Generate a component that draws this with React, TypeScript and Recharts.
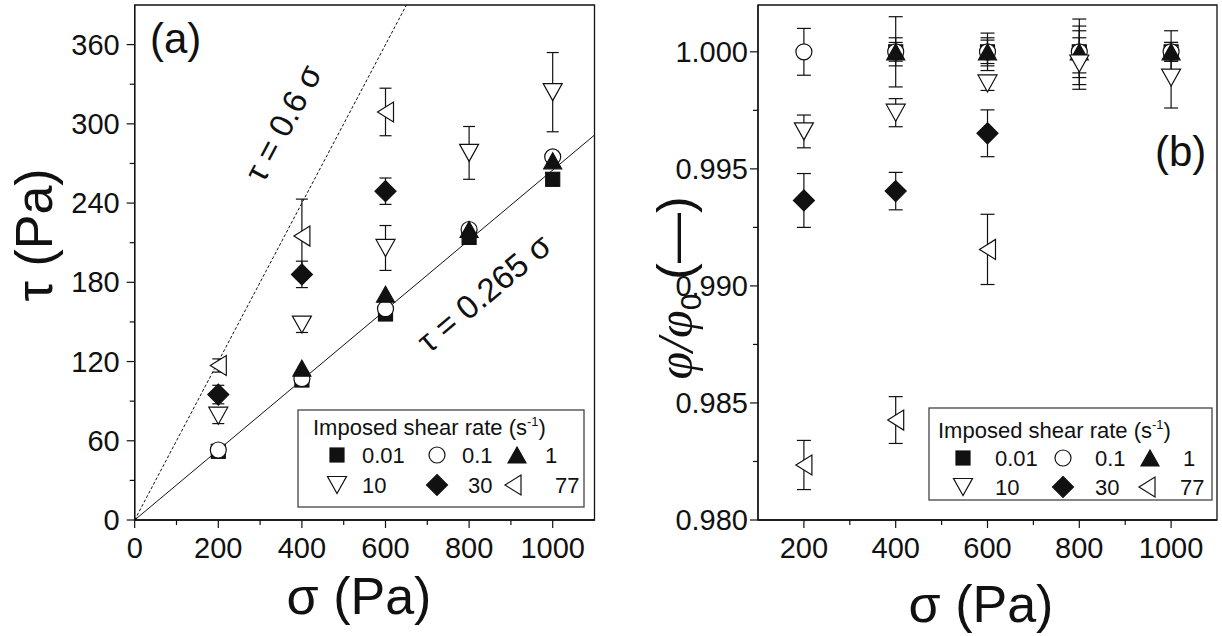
import React from 'react'
import { ScatterChart, Scatter, XAxis, YAxis, ErrorBar, ReferenceLine, ReferenceArea } from 'recharts'

const sigma = [200, 400, 600, 800, 1000]
const rates = ['0.01', '0.1', '1', '10', '30', '77']
const kinds = ['square', 'circle', 'up', 'down', 'diamond', 'left']

// (a) shear stress tau (Pa) vs normal stress sigma
const tau001 = [52, 106, 156, 214, 258]
const tau01 = [53, 107, 160, 220, 275]
const tau1 = [null, 115, 171, 220, 272]
const tau10 = [79, 148, 206, 278, 324]
const tau10Err = [6, 6, 17, 20, 30]
const tau30 = [95, 186, 249, null, null]
const tau30Err = [7, 10, 10, 0, 0]
const tau77 = [117, 215, 309, null, null]
const tau77Err = [5, 28, 18, 0, 0]

// (b) relative packing fraction phi/phi0
const phi001 = [null, 1, 1, 1, 1]
const phi001Err = [0, 0.0006, 0.0006, 0.0014, 0.0004]
const phi01 = [1, 1, 1, 1, 1]
const phi01Err = [0.001, 0.0015, 0.0008, 0.0009, 0.0009]
const phi1 = [null, 1, 1, 1, 1]
const phi1Err = [0, 0.0004, 0.0005, 0.0011, 0.0004]
const phi10 = [0.9966, 0.9974, 0.99865, 0.9995, 0.9989]
const phi10Err = [0.0007, 0.0006, 0.0003, 0.0011, 0.0013]
const phi30 = [0.99365, 0.99405, 0.99652, null, null]
const phi30Err = [0.00115, 0.0008, 0.001, 0, 0]
const phi77 = [0.98235, 0.98427, 0.99156, null, null]
const phi77Err = [0.00105, 0.001, 0.0015, 0, 0]

// fitted lines tau = k * sigma
const slopeSolid = 0.265
const slopeDashed = 0.6

const leftXTicks = [0, 100, 200, 300, 400, 500, 600, 700, 800, 900, 1000]
const leftYTicks = [0, 30, 60, 90, 120, 150, 180, 210, 240, 270, 300, 330, 360]
const rightXTicks = [200, 300, 400, 500, 600, 700, 800, 900, 1000]
const rightYTicks = [0.98, 0.9825, 0.985, 0.9875, 0.99, 0.9925, 0.995, 0.9975, 1.0]

const ink = '#111'
const font = '"Liberation Sans", Arial, sans-serif'

const build = (ys: (number | null)[], errs?: number[]) =>
  sigma
    .map((x, i) => ({ x, y: ys[i], err: errs ? errs[i] : 0 }))
    .filter((d) => d.y != null)

const tauSeries = [
  build(tau001),
  build(tau01),
  build(tau1),
  build(tau10, tau10Err),
  build(tau30, tau30Err),
  build(tau77, tau77Err),
]
const tauHasErr = [false, false, false, true, true, true]

const phiSeries = [
  build(phi001, phi001Err),
  build(phi01, phi01Err),
  build(phi1, phi1Err),
  build(phi10, phi10Err),
  build(phi30, phi30Err),
  build(phi77, phi77Err),
]

function Marker({ kind, cx, cy }: { kind: string; cx: number; cy: number }) {
  const st = { stroke: ink, strokeWidth: 1.2 }
  if (kind === 'square') return <rect x={cx - 7} y={cy - 7} width={14} height={14} fill={ink} {...st} />
  if (kind === 'circle') return <circle cx={cx} cy={cy} r={8} fill="#fff" {...st} />
  if (kind === 'up')
    return <polygon points={`${cx},${cy - 8} ${cx - 9},${cy + 8} ${cx + 9},${cy + 8}`} fill={ink} {...st} />
  if (kind === 'down')
    return <polygon points={`${cx},${cy + 8.5} ${cx - 9.5},${cy - 8.5} ${cx + 9.5},${cy - 8.5}`} fill="#fff" {...st} />
  if (kind === 'diamond')
    return (
      <polygon points={`${cx},${cy - 10.5} ${cx + 10.5},${cy} ${cx},${cy + 10.5} ${cx - 10.5},${cy}`} fill={ink} {...st} />
    )
  return <polygon points={`${cx - 8},${cy} ${cx + 8},${cy - 10} ${cx + 8},${cy + 10}`} fill="#fff" {...st} />
}

const shapeFor = (kind: string) => (p: any) => <Marker kind={kind} cx={p.cx} cy={p.cy} />

const LeftXTick = ({ x, y, payload }: any) => {
  const v = payload.value
  const major = v % 200 === 0
  return (
    <g>
      <line x1={x} y1={y} x2={x} y2={y + (major ? 8 : 5)} stroke={ink} strokeWidth={1.2} />
      {major && (
        <text x={x} y={y + 38} textAnchor="middle" fontSize={29} fontFamily={font} fill={ink}>
          {v}
        </text>
      )}
    </g>
  )
}

const LeftYTick = ({ x, y, payload }: any) => {
  const v = payload.value
  const major = v % 60 === 0
  return (
    <g>
      <line x1={x} y1={y} x2={x - (major ? 8 : 5)} y2={y} stroke={ink} strokeWidth={1.2} />
      {major && (
        <text x={x - 15} y={y + 10} textAnchor="end" fontSize={29} fontFamily={font} fill={ink}>
          {v}
        </text>
      )}
    </g>
  )
}

const RightXTick = ({ x, y, payload }: any) => {
  const v = payload.value
  const major = v % 200 === 0
  return (
    <g>
      <line x1={x} y1={y} x2={x} y2={y + (major ? 8 : 5)} stroke={ink} strokeWidth={1.2} />
      {major && (
        <text x={x} y={y + 38} textAnchor="middle" fontSize={29} fontFamily={font} fill={ink}>
          {v}
        </text>
      )}
    </g>
  )
}

const RightYTick = ({ x, y, payload }: any) => {
  const v = payload.value
  const major = Math.round(v * 10000) % 50 === 0
  return (
    <g>
      <line x1={x} y1={y} x2={x - (major ? 8 : 5)} y2={y} stroke={ink} strokeWidth={1.2} />
      {major && (
        <text x={x - 10} y={y + 10} textAnchor="end" fontSize={29} fontFamily={font} fill={ink}>
          {v.toFixed(3)}
        </text>
      )}
    </g>
  )
}

type LegendProps = {
  x: number
  y: number
  w: number
  h: number
  title: [number, number]
  rows: [number, number]
  marks: number[][]
  labels: number[][]
}

function LegendBox({ x, y, w, h, title, rows, marks, labels }: LegendProps) {
  return (
    <g fontFamily={font} fill={ink}>
      <rect x={x} y={y} width={w} height={h} fill="#fff" stroke="#444" strokeWidth={1.3} />
      <text x={title[0]} y={title[1]} fontSize={22}>
        Imposed shear rate (s
        <tspan fontSize={13} dy={-9}>
          -1
        </tspan>
        <tspan dy={9}>)</tspan>
      </text>
      {rates.map((r, i) => {
        const row = i < 3 ? 0 : 1
        const col = i % 3
        return (
          <g key={r}>
            <Marker kind={kinds[i]} cx={marks[row][col]} cy={rows[row]} />
            <text x={labels[row][col]} y={rows[row] + 8} fontSize={22}>
              {r}
            </text>
          </g>
        )
      })}
    </g>
  )
}

export default function App() {
  return (
    <div style={{ position: 'absolute', left: 0, top: 0, width: 1222, height: 636, background: '#fff' }}>
      <div style={{ position: 'absolute', left: 0, top: 0 }}>
        <ScatterChart width={600} height={636} margin={{ top: 5, right: 5.5, bottom: 76, left: 74.7 }}>
          <XAxis
            type="number"
            dataKey="x"
            domain={[0, 1100]}
            ticks={leftXTicks}
            interval={0}
            allowDataOverflow
            height={40}
            tickSize={0}
            tickMargin={0}
            tick={<LeftXTick />}
            axisLine={{ stroke: ink, strokeWidth: 1.3 }}
          />
          <YAxis
            type="number"
            dataKey="y"
            domain={[0, 390]}
            ticks={leftYTicks}
            interval={0}
            allowDataOverflow
            width={60}
            tickSize={0}
            tickMargin={0}
            tick={<LeftYTick />}
            axisLine={{ stroke: ink, strokeWidth: 1.3 }}
          />
          <ReferenceArea x1={0} x2={1100} y1={0} y2={390} fill="none" stroke={ink} strokeWidth={1.3} />
          <ReferenceLine
            segment={[
              { x: 0, y: 0 },
              { x: 390 / slopeDashed, y: 390 },
            ]}
            stroke={ink}
            strokeWidth={1}
            strokeDasharray="3 2"
          />
          <ReferenceLine
            segment={[
              { x: 0, y: 0 },
              { x: 1100, y: 1100 * slopeSolid },
            ]}
            stroke={ink}
            strokeWidth={1}
          />
          {tauSeries.map((data, i) => (
            <Scatter key={rates[i]} data={data} shape={shapeFor(kinds[i])} isAnimationActive={false}>
              {tauHasErr[i] && (
                <ErrorBar dataKey="err" direction="y" width={6} stroke={ink} strokeWidth={1.2} />
              )}
            </Scatter>
          ))}
        </ScatterChart>
      </div>

      <div style={{ position: 'absolute', left: 620, top: 0 }}>
        <ScatterChart width={602} height={636} margin={{ top: 5, right: 5, bottom: 76, left: 78 }}>
          <XAxis
            type="number"
            dataKey="x"
            domain={[100, 1100]}
            ticks={rightXTicks}
            interval={0}
            allowDataOverflow
            height={40}
            tickSize={0}
            tickMargin={0}
            tick={<RightXTick />}
            axisLine={{ stroke: ink, strokeWidth: 1.3 }}
          />
          <YAxis
            type="number"
            dataKey="y"
            domain={[0.98, 1.002]}
            ticks={rightYTicks}
            interval={0}
            allowDataOverflow
            width={60}
            tickSize={0}
            tickMargin={0}
            tick={<RightYTick />}
            axisLine={{ stroke: ink, strokeWidth: 1.3 }}
          />
          <ReferenceArea x1={100} x2={1100} y1={0.98} y2={1.002} fill="none" stroke={ink} strokeWidth={1.3} />
          {phiSeries.map((data, i) => (
            <Scatter key={rates[i]} data={data} shape={shapeFor(kinds[i])} isAnimationActive={false}>
              <ErrorBar dataKey="err" direction="y" width={7} stroke={ink} strokeWidth={1.2} />
            </Scatter>
          ))}
        </ScatterChart>
      </div>

      <svg
        width={1222}
        height={636}
        style={{ position: 'absolute', left: 0, top: 0, pointerEvents: 'none' }}
        fontFamily={font}
      >
        <text x={150} y={53} fontSize={42} fill={ink}>
          (a)
        </text>
        <text x={1155} y={166} fontSize={42} fill={ink}>
          (b)
        </text>
        <text x={359} y={614} fontSize={52} textAnchor="middle" fill={ink}>
          σ (Pa)
        </text>
        <text x={981} y={622} fontSize={52} textAnchor="middle" fill={ink}>
          σ (Pa)
        </text>
        <text x={52} y={235} fontSize={52} textAnchor="middle" fill={ink} transform="rotate(-90 52 235)">
          τ (Pa)
        </text>
        <text x={692} y={288} fontSize={50} textAnchor="middle" fill={ink} transform="rotate(-90 692 288)">
          <tspan fontFamily='"Liberation Serif", serif' fontStyle="italic">
            φ/φ
          </tspan>
          <tspan fontSize={30} dy={9}>
            0
          </tspan>
          <tspan dy={-9}> (—)</tspan>
        </text>
        <text
          x={283}
          y={123}
          fontSize={33}
          textAnchor="middle"
          dominantBaseline="central"
          fill={ink}
          transform="rotate(-62 283 123)"
        >
          τ = 0.6 σ
        </text>
        <text
          x={484}
          y={293}
          fontSize={33}
          textAnchor="middle"
          dominantBaseline="central"
          fill={ink}
          transform="rotate(-40 484 293)"
        >
          τ = 0.265 σ
        </text>
        <LegendBox
          x={298}
          y={410}
          w={286}
          h={97}
          title={[313, 435]}
          rows={[455, 485]}
          marks={[
            [337, 437, 517],
            [337, 437, 513],
          ]}
          labels={[
            [362, 462, 545],
            [362, 468, 555],
          ]}
        />
        <LegendBox
          x={929}
          y={408}
          w={283}
          h={92}
          title={[938, 438]}
          rows={[458, 487]}
          marks={[
            [963, 1063, 1150],
            [963, 1063, 1147],
          ]}
          labels={[
            [995, 1095, 1183],
            [995, 1095, 1180],
          ]}
        />
      </svg>
    </div>
  )
}
